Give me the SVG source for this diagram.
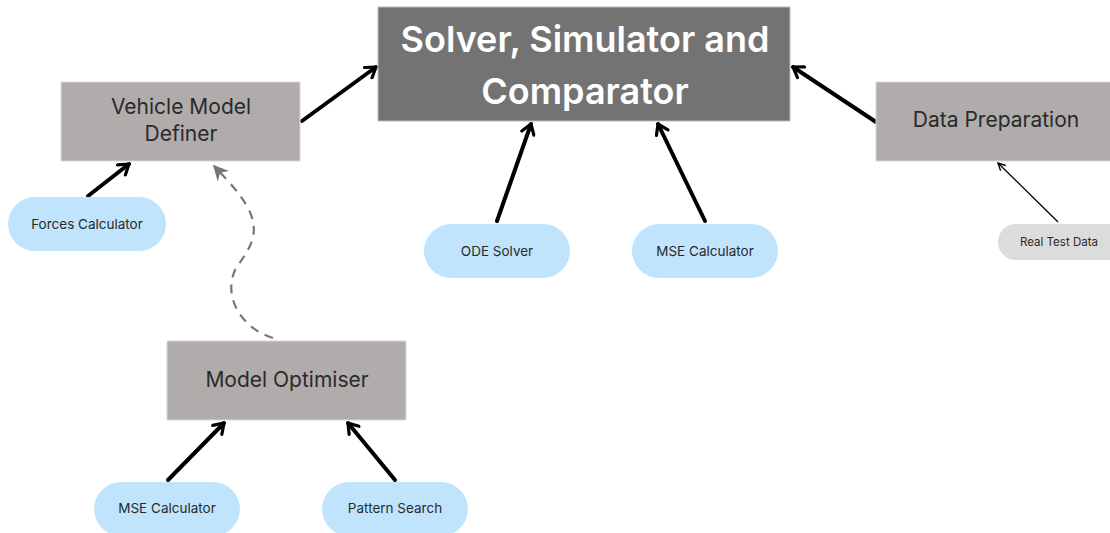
<svg xmlns="http://www.w3.org/2000/svg" width="1110" height="533" viewBox="0 0 1110 533">
<style>
.box{fill:#b0acab;stroke:#d9d6d5;stroke-width:1}
.main{fill:#737373;stroke:#bdbdbd;stroke-width:1}
.pill{fill:#bfe4fc}
.pillg{fill:#dcdcdc}
.t{font-family:Inter,"Liberation Sans",sans-serif;fill:#2a2a2a;text-anchor:middle}
.big{font-size:21px}
.small{font-size:13.5px}
.tiny{font-size:11.5px}
.mt{font-family:Inter,"Liberation Sans",sans-serif;fill:#fff;font-weight:600;font-size:36px;text-anchor:middle}
.c{fill:none;stroke:#000;stroke-width:4;stroke-linecap:round;marker-end:url(#ah)}
.thin{fill:none;stroke:#000;stroke-width:1.3;marker-end:url(#ahs)}
.dash{fill:none;stroke:#777;stroke-width:2.2;stroke-dasharray:9 7;marker-end:url(#ahd)}
</style>
<defs>
<marker id="ah" viewBox="0 0 10 10" refX="8" refY="5" markerWidth="4" markerHeight="4" orient="auto" markerUnits="strokeWidth">
<polyline points="2,1 8,5 2,9" fill="none" stroke="#000" stroke-width="2" stroke-linecap="round" stroke-linejoin="round"/>
</marker>
<marker id="ahs" viewBox="0 0 10 10" refX="9" refY="5" markerWidth="7" markerHeight="7" orient="auto" markerUnits="strokeWidth">
<polyline points="1,1 9,5 1,9" fill="none" stroke="#000" stroke-width="1.5"/>
</marker>
<marker id="ahd" viewBox="0 0 10 10" refX="9" refY="5" markerWidth="7" markerHeight="7" orient="auto" markerUnits="strokeWidth">
<path d="M0,0 L10,5 L0,10 L3,5 Z" fill="#777"/>
</marker>
</defs>
<g id="connectors">
<path class="c" d="M302,121 L376,67"/>
<path class="c" d="M876,122 L793,67"/>
<path class="c" d="M497,221 L531,124"/>
<path class="c" d="M705,221 L658,124"/>
<path class="c" d="M88,196 L129,164"/>
<path class="c" d="M168,480 L224,423"/>
<path class="c" d="M395,480 L348,423"/>
<path class="thin" d="M1058,222 L998,163"/>
<path class="dash" d="M273,338 C245,330 222,300 235,270 C248,250 262,235 248,208 C238,190 225,178 214,166"/>
</g>
<g id="main">
<rect class="main" x="378" y="7" width="412" height="114"/>
<text class="mt" x="585" y="52">Solver, Simulator and</text>
<text class="mt" x="585" y="104">Comparator</text>
</g>
<g id="vehicle">
<rect class="box" x="61" y="82" width="239" height="79"/>
<text class="t big" x="181" y="114">Vehicle Model</text>
<text class="t big" x="181" y="141">Definer</text>
</g>
<g id="dataprep">
<rect class="box" x="876" y="82" width="236" height="79"/>
<text class="t big" x="996" y="127">Data Preparation</text>
</g>
<g id="optimiser">
<rect class="box" x="167" y="341" width="239" height="79"/>
<text class="t big" x="287" y="387">Model Optimiser</text>
</g>
<g id="forces">
<rect class="pill" x="8" y="197" width="158" height="54" rx="27"/>
<text class="t small" x="87" y="229">Forces Calculator</text>
</g>
<g id="ode">
<rect class="pill" x="424" y="224" width="146" height="54" rx="27"/>
<text class="t small" x="497" y="256">ODE Solver</text>
</g>
<g id="mse1">
<rect class="pill" x="632" y="224" width="146" height="54" rx="27"/>
<text class="t small" x="705" y="256">MSE Calculator</text>
</g>
<g id="mse2">
<rect class="pill" x="94" y="482" width="146" height="54" rx="27"/>
<text class="t small" x="167" y="513">MSE Calculator</text>
</g>
<g id="pattern">
<rect class="pill" x="322" y="482" width="146" height="54" rx="27"/>
<text class="t small" x="395" y="513">Pattern Search</text>
</g>
<g id="realtest">
<rect class="pillg" x="998" y="224" width="130" height="36" rx="18"/>
<text class="t tiny" x="1059" y="246">Real Test Data</text>
</g>
</svg>
